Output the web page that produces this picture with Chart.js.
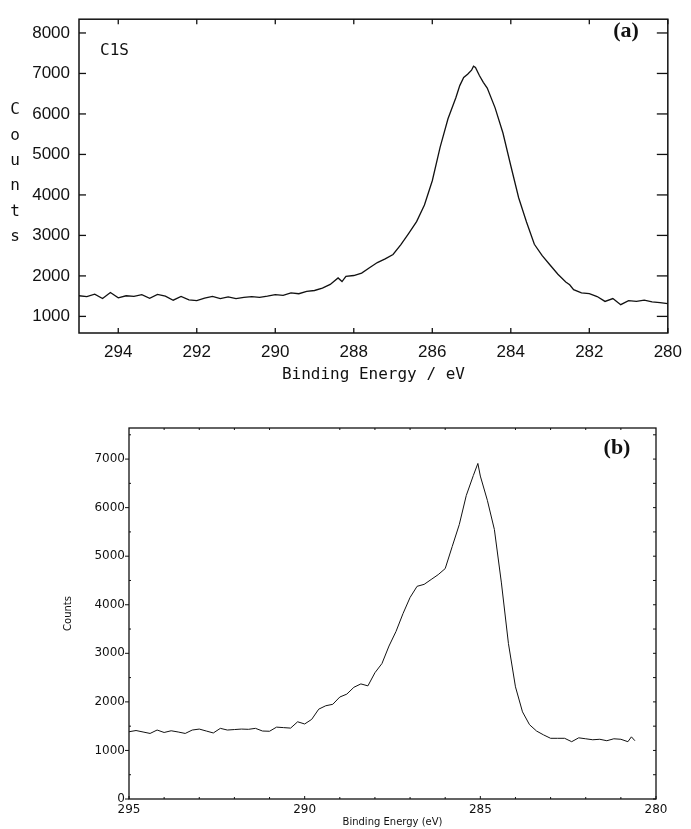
<!DOCTYPE html>
<html>
<head>
<meta charset="utf-8">
<title>C1S spectra</title>
<script src="https://cdn.jsdelivr.net/npm/chart.js@4.4.1/dist/chart.umd.min.js"></script>
<style>
  html, body { margin: 0; padding: 0; background: #fff; }
  #wrap { position: relative; width: 691px; height: 829px; }
  canvas { position: absolute; left: 0; }
  #chartA { top: 0; }
  #chartB { top: 390px; }
</style>
</head>
<body>
<div id="wrap">
  <canvas id="chartA" width="691" height="390"></canvas>
  <canvas id="chartB" width="691" height="439"></canvas>
</div>
<script>
// Panel (a) - C1S spectrum
const energyA = [295.0, 294.8, 294.6, 294.4, 294.2, 294.0, 293.8, 293.6, 293.4, 293.2,
    293.0, 292.8, 292.6, 292.4, 292.2, 292.0, 291.8, 291.6, 291.4, 291.2,
    291.0, 290.8, 290.6, 290.4, 290.2, 290.0, 289.8, 289.6, 289.4, 289.2,
    289.0, 288.8, 288.6, 288.4, 288.3, 288.2, 288.0, 287.8, 287.6, 287.4,
    287.2, 287.0, 286.8, 286.6, 286.4, 286.2, 286.0, 285.8, 285.6, 285.4,
    285.3, 285.2, 285.1, 285.0, 284.95, 284.9, 284.8, 284.7, 284.6, 284.4,
    284.2, 284.0, 283.8, 283.6, 283.4, 283.2, 283.0, 282.8, 282.6, 282.5,
    282.4, 282.2, 282.0, 281.8, 281.6, 281.4, 281.2, 281.0, 280.8, 280.6,
    280.4, 280.2, 280.0];
const countsA = [1510, 1490, 1550, 1440, 1590, 1460, 1510, 1495, 1535, 1445,
    1545, 1500, 1400, 1495, 1410, 1390, 1450, 1495, 1440, 1480,
    1440, 1470, 1490, 1470, 1500, 1540, 1520, 1580, 1560, 1620,
    1640, 1700, 1790, 1950, 1860, 1990, 2010, 2070, 2200, 2330,
    2420, 2530, 2770, 3050, 3340, 3750, 4350, 5180, 5880, 6400,
    6700, 6900, 6980, 7080, 7180, 7150, 6950, 6780, 6640, 6150,
    5530, 4720, 3930, 3330, 2780, 2500, 2270, 2040, 1850, 1780,
    1660, 1580, 1560, 1490, 1370, 1440, 1290, 1390, 1370, 1400,
    1360, 1340, 1315];
const xTicksA = [294, 292, 290, 288, 286, 284, 282, 280];
const yTicksA = [1000, 2000, 3000, 4000, 5000, 6000, 7000, 8000];

// Panel (b)
const energyB = [295.0, 294.8, 294.6, 294.4, 294.2, 294.0, 293.8, 293.6, 293.4, 293.2,
    293.0, 292.8, 292.6, 292.4, 292.2, 292.0, 291.8, 291.6, 291.4, 291.2,
    291.0, 290.8, 290.6, 290.4, 290.2, 290.0, 289.8, 289.6, 289.4, 289.2,
    289.0, 288.8, 288.6, 288.4, 288.2, 288.0, 287.8, 287.6, 287.4, 287.2,
    287.0, 286.8, 286.6, 286.4, 286.2, 286.0, 285.8, 285.6, 285.4, 285.2,
    285.07, 285.0, 284.8, 284.6, 284.4, 284.2, 284.0, 283.8, 283.6, 283.4,
    283.2, 283.0, 282.8, 282.6, 282.4, 282.2, 282.0, 281.8, 281.6, 281.4,
    281.2, 281.0, 280.8, 280.7, 280.6];
const countsB = [1385, 1410, 1380, 1350, 1420, 1370, 1405, 1380, 1350, 1420,
    1440, 1400, 1360, 1455, 1420, 1430, 1440, 1435, 1455, 1400,
    1395, 1480, 1470, 1460, 1590, 1545, 1640, 1850, 1920, 1950,
    2100, 2160, 2300, 2370, 2330, 2600, 2790, 3150, 3450, 3820,
    4150, 4380, 4420, 4520, 4620, 4745, 5200, 5650, 6250, 6660,
    6910, 6650, 6150, 5550, 4450, 3200, 2310, 1795, 1530, 1400,
    1320, 1250, 1250, 1250, 1180, 1260, 1240, 1220, 1230, 1200,
    1240, 1230, 1180, 1280, 1200];
const xTicksB = [295, 290, 285, 280];
const xMinorB = [294, 293, 292, 291, 289, 288, 287, 286, 284, 283, 282, 281];
const yTicksB = [0, 1000, 2000, 3000, 4000, 5000, 6000, 7000];
const yMinorB = [500, 1500, 2500, 3500, 4500, 5500, 6500, 7500];

const ink = '#111';

// Draws the box round the plot, tick marks and free text labels
const framePlugin = {
    id: 'frame',
    afterDatasetsDraw(chart, args, opts) {
        const ctx = chart.ctx;
        const area = chart.chartArea;
        ctx.save();
        ctx.strokeStyle = ink;
        ctx.lineWidth = opts.lineWidth;
        ctx.strokeRect(area.left, area.top, area.right - area.left, area.bottom - area.top);

        ctx.lineWidth = opts.tickWidth;
        opts.tickSets.forEach(set => {
            const scale = chart.scales[set.axis];
            set.values.forEach(v => {
                const p = scale.getPixelForValue(v);
                ctx.beginPath();
                if (set.side === 'bottom') { ctx.moveTo(p, area.bottom); ctx.lineTo(p, area.bottom - set.len); }
                if (set.side === 'top') { ctx.moveTo(p, area.top); ctx.lineTo(p, area.top + set.len); }
                if (set.side === 'left') { ctx.moveTo(area.left, p); ctx.lineTo(area.left + set.len, p); }
                if (set.side === 'right') { ctx.moveTo(area.right, p); ctx.lineTo(area.right - set.len, p); }
                ctx.stroke();
            });
        });

        ctx.fillStyle = ink;
        ctx.textBaseline = 'middle';
        opts.texts.forEach(t => {
            ctx.font = t.font;
            ctx.textAlign = t.align || 'center';
            ctx.fillText(t.text, t.x, t.y);
        });
        ctx.restore();
    }
};

function lineData(energy, counts) {
    return energy.map((e, i) => ({ x: e, y: counts[i] }));
}

// Panel (a)
const countsLetters = 'Counts'.split('').map((ch, i) => ({
    text: ch, x: 15, y: 110 + i * 25.4, font: '16px "DejaVu Sans Mono"'
}));

new Chart(document.getElementById('chartA'), {
    type: 'line',
    data: {
        datasets: [{
            data: lineData(energyA, countsA),
            borderColor: ink,
            borderWidth: 1.3,
            pointRadius: 0,
            tension: 0
        }]
    },
    options: {
        responsive: false,
        animation: false,
        events: [],
        layout: { padding: { left: 0, right: 18, top: 14, bottom: 0 } },
        plugins: {
            legend: { display: false },
            tooltip: { enabled: false },
            frame: {
                lineWidth: 1.5,
                tickWidth: 1.3,
                tickSets: [
                    { axis: 'x', side: 'bottom', len: 5, values: xTicksA },
                    { axis: 'x', side: 'top', len: 5, values: xTicksA },
                    { axis: 'y', side: 'left', len: 7, values: yTicksA },
                    { axis: 'y', side: 'right', len: 11, values: yTicksA }
                ],
                texts: [
                    { text: 'C1S', x: 100, y: 51, align: 'left', font: '16px "DejaVu Sans Mono"' },
                    { text: '(a)', x: 626, y: 31, font: 'bold 22px "Liberation Serif"' }
                ].concat(countsLetters)
            }
        },
        scales: {
            x: {
                type: 'linear',
                min: 280,
                max: 295,
                reverse: true,
                afterBuildTicks: s => { s.ticks = xTicksA.map(v => ({ value: v })); },
                afterFit: s => { s.height = 57; },
                grid: { display: false, drawTicks: false },
                border: { display: false },
                ticks: {
                    padding: 9,
                    color: ink,
                    maxRotation: 0,
                    font: { family: 'Liberation Sans', size: 17 },
                    callback: v => String(v)
                },
                title: {
                    display: true,
                    text: 'Binding Energy / eV',
                    color: ink,
                    font: { family: 'DejaVu Sans Mono', size: 16 },
                    padding: { top: 0, bottom: 6 }
                }
            },
            y: {
                type: 'linear',
                min: 590,
                max: 8340,
                afterBuildTicks: s => { s.ticks = yTicksA.map(v => ({ value: v })); },
                afterFit: s => { s.width = 79; },
                grid: { display: false, drawTicks: false },
                border: { display: false },
                ticks: {
                    padding: 9,
                    color: ink,
                    font: { family: 'Liberation Sans', size: 17 },
                    callback: v => String(v)
                }
            }
        }
    },
    plugins: [framePlugin]
});

// Panel (b)
new Chart(document.getElementById('chartB'), {
    type: 'line',
    data: {
        datasets: [{
            data: lineData(energyB, countsB),
            borderColor: ink,
            borderWidth: 1,
            pointRadius: 0,
            tension: 0
        }]
    },
    options: {
        responsive: false,
        animation: false,
        events: [],
        layout: { padding: { left: 58, right: 35, top: 38, bottom: 0 } },
        plugins: {
            legend: { display: false },
            tooltip: { enabled: false },
            frame: {
                lineWidth: 1.3,
                tickWidth: 1,
                tickSets: [
                    { axis: 'y', side: 'left', len: -4, values: yTicksB },
                    { axis: 'y', side: 'left', len: 2, values: yMinorB },
                    { axis: 'y', side: 'right', len: 3, values: yTicksB.concat(yMinorB) },
                    { axis: 'x', side: 'top', len: 2, values: xMinorB },
                    { axis: 'x', side: 'bottom', len: 3, values: xTicksB },
                    { axis: 'x', side: 'bottom', len: 2, values: xMinorB }
                ],
                texts: [
                    { text: '(b)', x: 617, y: 58, font: 'bold 22px "Liberation Serif"' }
                ]
            }
        },
        scales: {
            x: {
                type: 'linear',
                min: 280,
                max: 295,
                reverse: true,
                afterBuildTicks: s => { s.ticks = xTicksB.map(v => ({ value: v })); },
                afterFit: s => { s.height = 30; },
                grid: { display: false, drawTicks: false },
                border: { display: false },
                ticks: {
                    padding: 4,
                    color: ink,
                    maxRotation: 0,
                    font: { family: 'DejaVu Sans', size: 12 },
                    callback: v => String(v)
                },
                title: {
                    display: true,
                    text: 'Binding Energy (eV)',
                    color: ink,
                    font: { family: 'DejaVu Sans', size: 10 },
                    padding: { top: 0, bottom: 1 }
                }
            },
            y: {
                type: 'linear',
                min: 0,
                max: 7640,
                afterBuildTicks: s => { s.ticks = yTicksB.map(v => ({ value: v })); },
                afterFit: s => { s.width = 71; },
                grid: { display: false, drawTicks: false },
                border: { display: false },
                ticks: {
                    padding: 4,
                    color: ink,
                    font: { family: 'DejaVu Sans', size: 12 },
                    callback: v => String(v)
                },
                title: {
                    display: true,
                    text: 'Counts',
                    color: ink,
                    font: { family: 'DejaVu Sans', size: 10 },
                    padding: { top: 4, bottom: 0 }
                }
            }
        }
    },
    plugins: [framePlugin]
});
</script>
</body>
</html>
